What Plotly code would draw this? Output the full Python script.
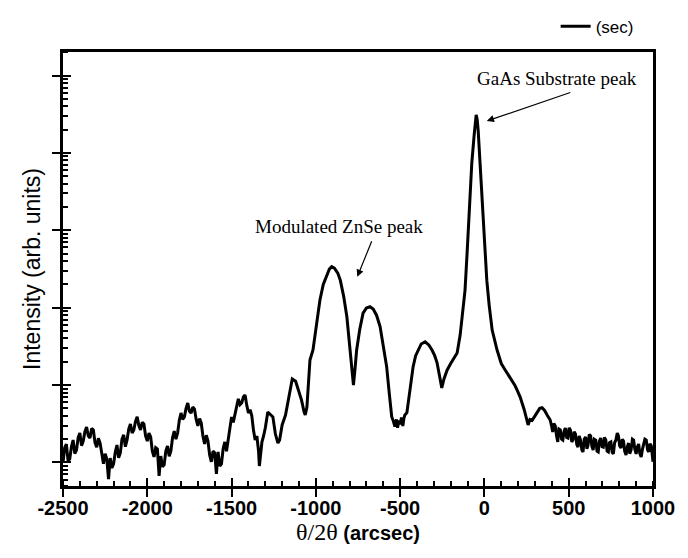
import plotly.graph_objects as go

# theta/2theta offset (arcsec)
theta = [
    -2500, -2490, -2480, -2470, -2460, -2450, -2440, -2430, -2420, -2410,
    -2400, -2390, -2380, -2370, -2360, -2350, -2340, -2330, -2320, -2310,
    -2300, -2290, -2280, -2270, -2260, -2250, -2240, -2230, -2220, -2210,
    -2200, -2190, -2180, -2170, -2160, -2150, -2140, -2130, -2120, -2110,
    -2100, -2090, -2080, -2070, -2060, -2050, -2040, -2030, -2020, -2010,
    -2000, -1990, -1980, -1970, -1960, -1950, -1940, -1930, -1920, -1910,
    -1900, -1890, -1880, -1870, -1860, -1850, -1840, -1830, -1820, -1810,
    -1800, -1790, -1780, -1770, -1760, -1750, -1740, -1730, -1720, -1710,
    -1700, -1690, -1680, -1670, -1660, -1650, -1640, -1630, -1620, -1610,
    -1600, -1590, -1580, -1570, -1560, -1550, -1540, -1530, -1520, -1510,
    -1500, -1490, -1480, -1470, -1460, -1450, -1440, -1430, -1420, -1410,
    -1400, -1390, -1380, -1370, -1360, -1350, -1340, -1335, -1320, -1310,
    -1300, -1285, -1270, -1255, -1240, -1225, -1215, -1200, -1180, -1160,
    -1140, -1120, -1100, -1085, -1070, -1063, -1053, -1035, -1017, -1000,
    -976, -956, -936, -920, -906, -890, -870, -855, -835, -816,
    -800, -787, -777, -768, -758, -740, -720, -700, -679, -660,
    -640, -619, -600, -580, -565, -550, -540, -531, -522, -515,
    -508, -501, -492, -484, -478, -472, -460, -440, -423, -408,
    -393, -375, -352, -330, -311, -295, -281, -265, -253, -240,
    -221, -200, -180, -162, -144, -126, -115, -103, -91, -75,
    -61, -55, -49, -43, -37, -26, -10, 1, 14, 28,
    46, 75, 100, 123, 150, 170, 182, 194, 212, 236,
    259, 270, 283, 300, 313, 328, 342, 357, 372, 390,
    398, 405, 412, 420, 428, 435, 442, 450, 458, 465,
    472, 480, 488, 495, 502, 510, 518, 525, 532, 540,
    548, 555, 562, 570, 578, 585, 592, 600, 608, 615,
    622, 630, 638, 645, 652, 660, 668, 675, 682, 690,
    698, 705, 712, 720, 728, 735, 742, 750, 758, 765,
    772, 780, 788, 795, 802, 810, 818, 825, 832, 840,
    848, 855, 862, 870, 878, 885, 892, 900, 908, 915,
    922, 930, 938, 945, 952, 960, 968, 975, 982, 990,
    1000,
]

# intensity (arb. units, log scale)
intensity = [
    9.9, 15.5, 17.3, 10.5, 11.1, 16.0, 19.5, 13.0, 14.5, 21.0,
    24.0, 16.5, 18.9, 25.0, 28.8, 22.0, 20.7, 27.5, 26.3, 18.0,
    15.8, 20.5, 17.8, 12.0, 9.6, 13.0, 11.1, 6.1, 11.4, 8.5,
    9.6, 13.5, 16.8, 11.5, 13.3, 20.0, 22.7, 16.0, 19.5, 27.0,
    31.4, 24.0, 26.3, 34.0, 38.8, 30.0, 26.3, 33.0, 31.4, 22.0,
    18.9, 24.0, 21.4, 14.0, 11.8, 15.5, 14.9, 6.7, 12.1, 8.8,
    9.3, 14.0, 16.3, 12.0, 14.1, 21.0, 25.5, 20.0, 24.0, 35.0,
    43.6, 36.0, 38.8, 50.0, 58.8, 46.0, 43.6, 52.0, 48.9, 36.0,
    29.6, 37.0, 32.4, 22.0, 17.3, 22.5, 18.9, 12.5, 10.2, 14.0,
    13.3, 7.1, 13.7, 9.0, 9.6, 15.0, 18.4, 14.0, 19.5, 30.0,
    38.8, 33.0, 41.1, 55.0, 66.5, 56.0, 58.8, 70.0, 74.5, 55.0,
    43.6, 48.0, 40.0, 26.0, 19.5, 22.0, 14.0, 9.0, 18.4, 22.0,
    27.9, 44.9, 41.1, 38.8, 23.3, 17.8, 19.5, 30.5, 41.0, 74.5,
    120, 112, 80, 64, 45, 41, 52, 211, 284, 560,
    1250, 2000, 2660, 3150, 3390, 3250, 2800, 2270, 1400, 763,
    330, 173, 100, 160, 284, 520, 850, 990, 1030, 960,
    800, 570, 330, 173, 80, 39, 34, 29, 36, 28,
    35, 31, 38, 29.6, 37, 41, 44, 100, 173, 240,
    284, 340, 363, 330, 284, 240, 194, 130, 92, 120,
    157, 190, 225, 260, 443, 931, 1690, 5000, 16600, 74000,
    170000, 270000, 310000, 270000, 194000, 74000, 16600, 5550, 2270, 1080,
    514, 284, 190, 157, 125, 110, 98, 86, 70, 48,
    30.5, 36, 35, 40, 45, 50, 51, 47, 41, 35.4,
    30.0, 24.8, 32.0, 29.6, 22.0, 18.4, 27.0, 26.3, 20.0, 19.5,
    25.0, 27.9, 21.0, 20.7, 28.0, 26.3, 18.5, 19.5, 25.0, 23.3,
    17.0, 15.8, 22.0, 19.5, 14.5, 13.7, 20.0, 21.4, 15.0, 16.8,
    23.0, 22.0, 16.0, 14.5, 20.0, 19.5, 14.0, 13.7, 19.0, 20.7,
    16.0, 15.8, 21.0, 19.5, 14.0, 13.7, 18.0, 18.4, 13.5, 12.9,
    18.0, 19.5, 24.0, 22.0, 16.5, 15.4, 20.0, 18.9, 14.0, 12.5,
    16.0, 17.8, 13.0, 14.5, 20.0, 19.5, 15.0, 12.9, 16.0, 17.3,
    13.0, 11.8, 15.0, 16.8, 20.0, 19.5, 14.5, 13.7, 17.5, 16.3,
    10.2,
]

x_ticks = [-2500, -2000, -1500, -1000, -500, 0, 500, 1000]

fig = go.Figure()
fig.add_trace(go.Scatter(
    x=theta, y=intensity, mode="lines", name="(sec)",
    line=dict(color="black", width=3),
))
# dummy trace for the overlay axes (inside half of crossing ticks)
fig.add_trace(go.Scatter(
    x=[theta[0]], y=[intensity[0]], xaxis="x2", yaxis="y2",
    mode="markers", marker=dict(opacity=0), showlegend=False, hoverinfo="skip",
))

fig.update_layout(
    width=680, height=550,
    margin=dict(l=55, r=35, t=44, b=72, autoexpand=False),
    paper_bgcolor="white", plot_bgcolor="white",
    showlegend=True,
    legend=dict(x=0.835, y=1.10, xanchor="left", yanchor="top",
                bgcolor="rgba(0,0,0,0)",
                font=dict(family="Liberation Sans, Arial", size=17, color="black")),
    xaxis=dict(
        range=[-2500, 1000], tickvals=x_ticks,
        ticktext=[str(v) for v in x_ticks],
        ticks="outside", ticklen=8, tickwidth=2, tickcolor="black",
        showline=True, linewidth=2.5, linecolor="black", mirror=True,
        showgrid=False, zeroline=False, automargin=False,
        ticklabelstandoff=-6,
        tickfont=dict(family="Liberation Sans, Arial", size=20, color="black", weight="bold"),
        minor=dict(ticks="inside", ticklen=5, tickwidth=2, tickcolor="black",
                   dtick=100, showgrid=False),
        title=dict(text="<span style='font-family:Liberation Serif;font-size:24px'>θ/2θ</span> <b>(arcsec)</b>",
                   font=dict(family="Liberation Sans, Arial", size=20, color="black"),
                   standoff=0),
    ),
    yaxis=dict(
        type="log", range=[0.696, 6.304], dtick=1,
        ticks="outside", ticklen=8, tickwidth=2, tickcolor="black",
        showticklabels=False,
        showline=True, linewidth=2.5, linecolor="black", mirror=True,
        showgrid=False, zeroline=False, automargin=False,
        minor=dict(ticks="inside", ticklen=5, tickwidth=1.5, tickcolor="black",
                   dtick="D1", showgrid=False),
        title=dict(text="Intensity (arb. units)",
                   font=dict(family="Liberation Sans, Arial", size=23, color="black"),
                   standoff=6),
    ),
    xaxis2=dict(overlaying="x", matches="x", ticks="inside", ticklen=8, tickwidth=2,
                tickcolor="black", tickvals=x_ticks, showticklabels=False,
                showline=False, showgrid=False, zeroline=False, side="bottom"),
    yaxis2=dict(overlaying="y", matches="y", type="log", dtick=1, ticks="inside",
                ticklen=8, tickwidth=2, tickcolor="black", showticklabels=False,
                showline=False, showgrid=False, zeroline=False, side="left"),
    annotations=[
        dict(xref="paper", yref="paper", x=0.838, y=0.940, text="GaAs Substrate peak",
             xanchor="center", yanchor="middle", showarrow=False,
             font=dict(family="Liberation Serif", size=19, color="black")),
        dict(xref="paper", yref="paper", x=0.7183, y=0.841, text="",
             showarrow=True, ax=85, ay=-29, arrowhead=2, arrowsize=1.2,
             arrowwidth=1.2, arrowcolor="black"),
        dict(xref="paper", yref="paper", x=0.467, y=0.599, text="Modulated ZnSe peak",
             xanchor="center", yanchor="middle", showarrow=False,
             font=dict(family="Liberation Serif", size=19, color="black")),
        dict(xref="paper", yref="paper", x=0.4988, y=0.482, text="",
             showarrow=True, ax=15, ay=-37, arrowhead=2, arrowsize=1.2,
             arrowwidth=1.2, arrowcolor="black"),
    ],
)

fig.write_html("out.html")
